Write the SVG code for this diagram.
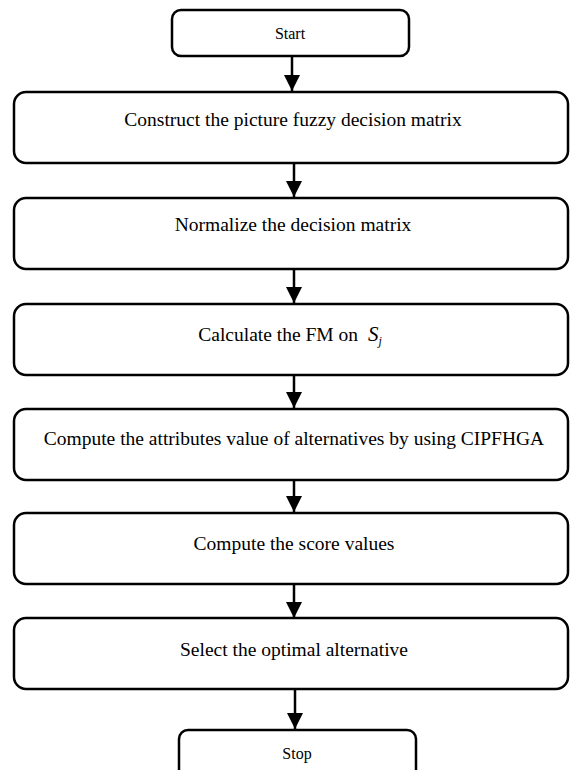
<svg xmlns="http://www.w3.org/2000/svg" width="576" height="770" viewBox="0 0 576 770">
<defs>
<style>
.box{fill:#fff;stroke:#000;stroke-width:2.5}
.t{font-family:"Liberation Serif","Times New Roman",serif;font-size:19.5px;fill:#000;text-anchor:middle}
.s{font-family:"Liberation Serif","Times New Roman",serif;font-size:16px;fill:#000;text-anchor:middle}
.c{stroke:#000;stroke-width:2.5;fill:none}
</style>
<marker id="ah" viewBox="0 0 10 10" refX="10" refY="5" markerWidth="6.4" markerHeight="6.4" markerUnits="strokeWidth" orient="auto">
<path d="M0,0 L10,5 L0,10 z" fill="#000"/>
</marker>
</defs>
<rect width="576" height="770" fill="#fff"/>
<g id="connectors">
<line class="c" x1="292" y1="56" x2="292" y2="91" marker-end="url(#ah)"/>
<line class="c" x1="294" y1="163" x2="294" y2="197" marker-end="url(#ah)"/>
<line class="c" x1="294" y1="269" x2="294" y2="303" marker-end="url(#ah)"/>
<line class="c" x1="294" y1="375" x2="294" y2="408" marker-end="url(#ah)"/>
<line class="c" x1="294" y1="480" x2="294" y2="512" marker-end="url(#ah)"/>
<line class="c" x1="294" y1="584" x2="294" y2="618" marker-end="url(#ah)"/>
<line class="c" x1="295" y1="689" x2="295" y2="729" marker-end="url(#ah)"/>
</g>
<g id="start">
<rect class="box" x="172" y="10" width="237" height="46" rx="9"/>
<text class="s" x="290" y="39">Start</text>
</g>
<g id="construct">
<rect class="box" x="14" y="92" width="554" height="71" rx="12"/>
<text class="t" x="293" y="126">Construct the picture fuzzy decision matrix</text>
</g>
<g id="normalize">
<rect class="box" x="14" y="198" width="554" height="71" rx="12"/>
<text class="t" x="293" y="231">Normalize the decision matrix</text>
</g>
<g id="fm">
<rect class="box" x="14" y="304" width="554" height="71" rx="12"/>
<text class="t" x="290" y="341">Calculate the FM on <tspan dx="5" font-style="italic" font-size="21">S</tspan><tspan font-style="italic" font-size="12" dy="4">j</tspan></text>
</g>
<g id="compute-attr">
<rect class="box" x="14" y="409" width="554" height="71" rx="12"/>
<text class="t" x="294" y="445">Compute the attributes value of alternatives by using CIPFHGA</text>
</g>
<g id="score">
<rect class="box" x="14" y="513" width="554" height="71" rx="12"/>
<text class="t" x="294" y="550">Compute the score values</text>
</g>
<g id="select">
<rect class="box" x="14" y="618" width="554" height="71" rx="12"/>
<text class="t" x="294" y="656">Select the optimal alternative</text>
</g>
<g id="stop">
<rect class="box" x="179" y="730" width="237" height="56" rx="9"/>
<text class="s" x="297" y="759">Stop</text>
</g>
</svg>
